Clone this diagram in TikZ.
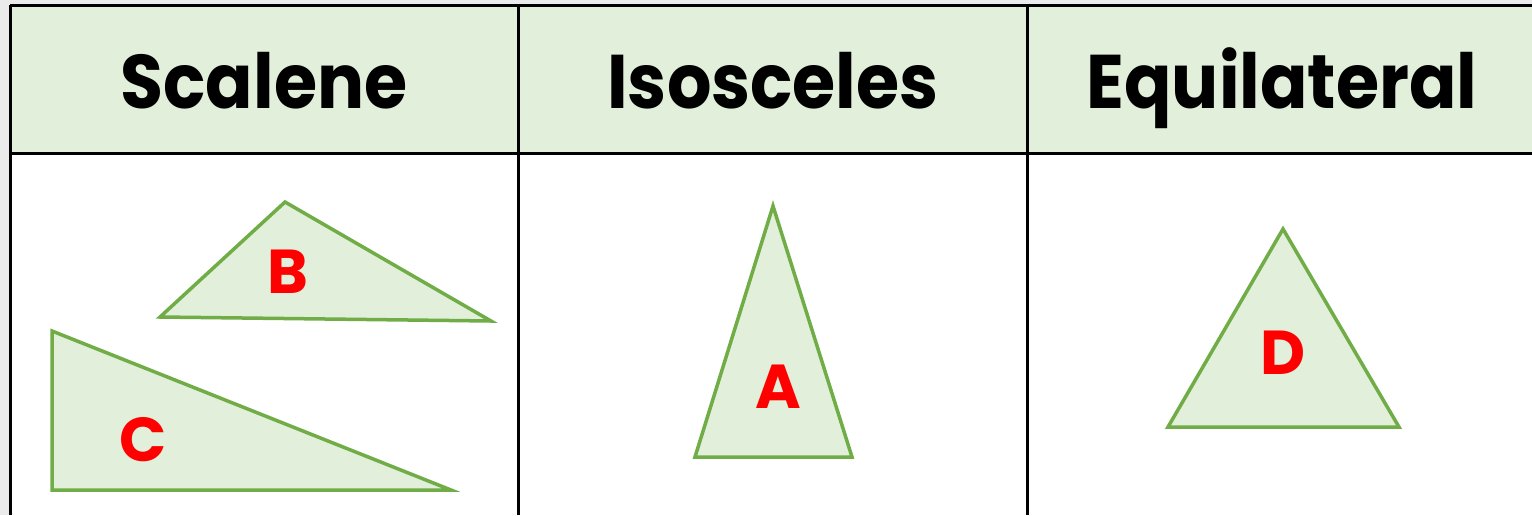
\documentclass[tikz,border=0pt]{standalone}
\usepackage{fontspec}
\newfontfamily\hfont{Poppins}
\definecolor{hdrfill}{HTML}{E2EFDA}
\definecolor{trifill}{HTML}{E2EFDA}
\definecolor{tristroke}{HTML}{70AD47}
\definecolor{lblred}{HTML}{FF0000}
\definecolor{edgegray}{HTML}{EBEBEB}
\tikzset{
  gridline/.style={draw=black, line width=3pt},
  tri/.style={draw=tristroke, fill=trifill, line width=3.5pt, line join=miter},
  hdr/.style={font=\hfont\bfseries\fontsize{76}{80}\selectfont, text=black, anchor=base, inner sep=0pt, xscale=0.92},
  lbl/.style={font=\hfont\bfseries\fontsize{62}{66}\selectfont, text=lblred, anchor=center, inner sep=0pt}
}
\begin{document}
\begin{tikzpicture}[x=1pt,y=-1pt]
\useasboundingbox (0,0) rectangle (1532,515);
\fill[white] (0,0) rectangle (1532,515);
\fill[edgegray] (0,0) rectangle (9,515);
\fill[edgegray] (0,0) rectangle (1532,4);
\fill[hdrfill] (10,5) rectangle (1532,153);
% grid
\draw[gridline] (10,5) -- (1532,5);
\draw[gridline] (10,153) -- (1532,153);
\draw[gridline] (10,5) -- (10,515);
\draw[gridline] (518,5) -- (518,515);
\draw[gridline] (1027,5) -- (1027,515);
% headers
\node[hdr] (h1) at (264,108) {Scalene};
\node[hdr] (h2) at (773,108) {Isosceles};
\node[hdr] (h3) at (1282,108) {Equilateral};
% triangles
\draw[tri] (160,317) -- (285,202) -- (491,321) -- cycle;
\draw[tri] (52,331) -- (52,490) -- (451,490) -- cycle;
\draw[tri] (773,206) -- (695,457) -- (852,457) -- cycle;
\draw[tri] (1283,229) -- (1168,427) -- (1399,427) -- cycle;
% labels
\node[lbl] (lb) at (288,272) {B};
\node[lbl] (lc) at (143,440) {C};
\node[lbl] (la) at (778,387) {A};
\node[lbl] (ld) at (1283,353) {D};
\end{tikzpicture}
\end{document}
